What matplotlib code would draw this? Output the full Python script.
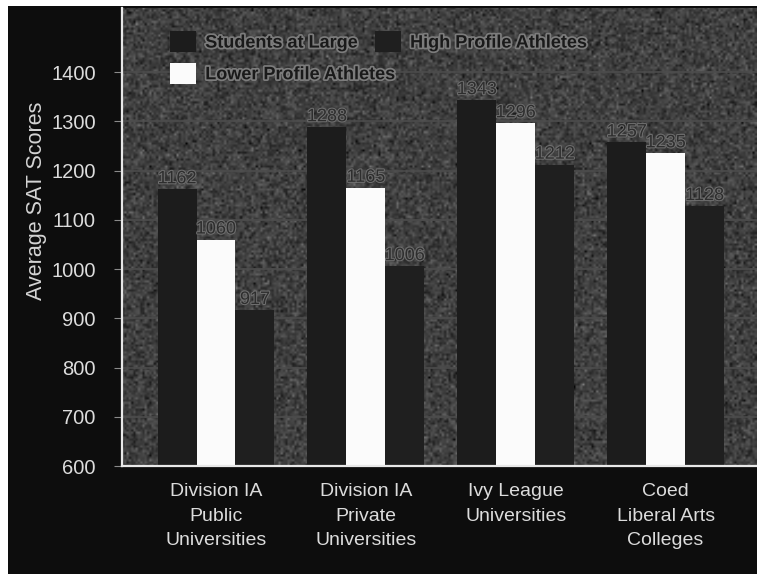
import matplotlib.pyplot as plt
import matplotlib.patheffects as pe
from matplotlib.patches import Patch, Rectangle
import numpy as np

plt.rcParams['font.family'] = ['Liberation Sans', 'DejaVu Sans']

groups = ['Division IA\nPublic\nUniversities', 'Division IA\nPrivate\nUniversities',
          'Ivy League\nUniversities', 'Coed\nLiberal Arts\nColleges']
students = [1162, 1288, 1343, 1257]
lower_profile = [1060, 1165, 1296, 1235]
high_profile = [917, 1006, 1212, 1128]

fig = plt.figure(figsize=(7.57, 5.74), dpi=100, facecolor='white')
# black panel behind everything
fig.add_artist(Rectangle((0.011, 0), 0.989, 0.99, transform=fig.transFigure,
                         facecolor='#0d0d0d', edgecolor='none', zorder=-10))

ax = fig.add_axes([0.1612, 0.188, 0.8388, 0.798])
ax.set_facecolor('#3a3a3a')

# grainy background of the plot area
rng = np.random.default_rng(3)
grain = rng.normal(0.25, 0.065, (200, 280))
ax.imshow(grain, cmap='gray', vmin=0, vmax=1, extent=(0, 1, 0, 1),
          transform=ax.transAxes, aspect='auto', zorder=0, interpolation='bilinear')

x = np.arange(len(groups))
w = 0.26
outline = [pe.withStroke(linewidth=1.5, foreground='#6e6e6e')]

b1 = ax.bar(x - w, students, w, color='#1c1c1c', zorder=2)
b2 = ax.bar(x, lower_profile, w, color='#fbfbfb', zorder=2)
b3 = ax.bar(x + w, high_profile, w, color='#1f1f1f', zorder=2)

for bars, vals in [(b1, students), (b2, lower_profile), (b3, high_profile)]:
    for b, v in zip(bars, vals):
        ax.text(b.get_x() + b.get_width() / 2, v + 4, str(v), ha='center', va='bottom',
                fontsize=13, color='#2e2e2e', path_effects=outline, zorder=3)

ax.set_ylim(600, 1530)
ax.set_xlim(-0.627, 3.61)
ax.set_yticks(range(600, 1500, 100))
ax.set_xticks(x)
ax.set_xticklabels(groups, fontsize=14, color='#dcdcdc', linespacing=1.6)
ax.tick_params(axis='y', colors='#8a8a8a', labelcolor='#dcdcdc', labelsize=14.5,
               length=6, pad=13)
ax.tick_params(axis='x', length=0, pad=12)
ax.yaxis.grid(True, color='#4c4c4c', linewidth=1.2, zorder=1)
ax.set_axisbelow(True)

for side in ['top', 'right']:
    ax.spines[side].set_visible(False)
for side in ['left', 'bottom']:
    ax.spines[side].set_color('#e8e8e8')
    ax.spines[side].set_linewidth(1.6)

ax.set_ylabel('Average SAT Scores', fontsize=15.5, color='#d4d4d4')
ax.yaxis.set_label_coords(-0.118, 0.58)

handles = [Patch(facecolor='#1c1c1c', label='Students at Large'),
           Patch(facecolor='#fbfbfb', label='Lower Profile Athletes'),
           Patch(facecolor='#1f1f1f', label='High Profile Athletes')]
leg = ax.legend(handles=handles, ncol=2, loc='upper left', bbox_to_anchor=(0.05, 0.985),
                frameon=False, handlelength=1.45, handleheight=1.4,
                handletextpad=0.5, columnspacing=-1.1, labelspacing=0.6,
                prop={'weight': 'bold', 'size': 13})
for t in leg.get_texts():
    t.set_color('#1a1a1a')
    t.set_path_effects([pe.withStroke(linewidth=2.5, foreground='#7c7c7c')])

fig.savefig('out.png', dpi=100, facecolor=fig.get_facecolor())
